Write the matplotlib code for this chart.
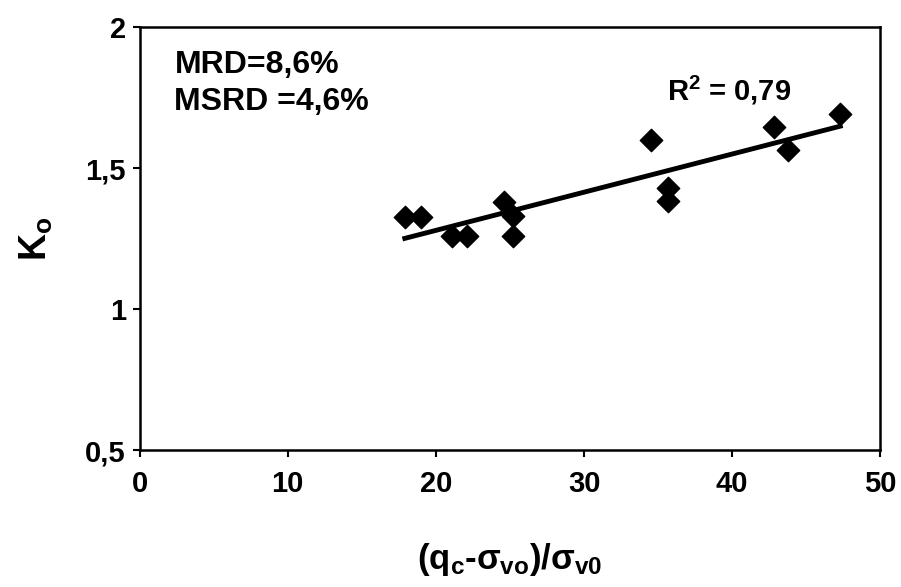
import matplotlib
matplotlib.use("Agg")
import matplotlib.pyplot as plt
import numpy as np

# data
x_ratio = [17.9, 19.0, 21.1, 22.1, 24.6, 25.2, 25.2, 34.5, 35.7, 35.7, 42.8, 43.8, 47.3]
k0 = [1.325, 1.325, 1.26, 1.26, 1.38, 1.33, 1.26, 1.60, 1.43, 1.385, 1.645, 1.565, 1.69]
x_ticks = [0, 10, 20, 30, 40, 50]
y_ticks = [0.5, 1.0, 1.5, 2.0]
y_tick_labels = ["0,5", "1", "1,5", "2"]

plt.rcParams["font.family"] = ["Liberation Sans", "DejaVu Sans"]
plt.rcParams["font.weight"] = "bold"
plt.rcParams["axes.labelweight"] = "bold"
plt.rcParams["mathtext.fontset"] = "custom"
plt.rcParams["mathtext.rm"] = "Liberation Sans:bold"
plt.rcParams["mathtext.bf"] = "Liberation Sans:bold"
plt.rcParams["mathtext.it"] = "Liberation Sans:bold"

fig = plt.figure(figsize=(9.01, 5.87), dpi=100)
ax = fig.add_axes([0.155, 0.233, 0.822, 0.721])

ax.scatter(x_ratio, k0, marker="D", s=130, color="black", zorder=3)

# linear trend line
coef = np.polyfit(x_ratio, k0, 1)
xl = np.array([min(x_ratio), max(x_ratio)])
ax.plot(xl, np.polyval(coef, xl), color="black", lw=3.5, zorder=2)

ax.set_xlim(0, 50)
ax.set_ylim(0.5, 2)
ax.set_xticks(x_ticks)
ax.set_yticks(y_ticks)
ax.set_yticklabels(y_tick_labels)
ax.tick_params(direction="out", length=5, width=1.5, labelsize=21)
ax.tick_params(axis="x", pad=9)
ax.tick_params(axis="y", pad=5)
for s in ax.spines.values():
    s.set_linewidth(1.8)

ax.text(0.047, 0.891, "MRD=8,6%", transform=ax.transAxes, fontsize=23,
        va="baseline")
ax.text(0.047, 0.804, "MSRD =4,6%", transform=ax.transAxes, fontsize=23,
        va="baseline")
ax.text(0.712, 0.827, r"R$^\mathrm{2}$ = 0,79", transform=ax.transAxes,
        fontsize=21, va="baseline")

ax.set_ylabel(r"K$_\mathrm{o}$", fontsize=27, labelpad=22)
ax.set_xlabel(r"(q$_\mathrm{c}$-$\sigma_\mathrm{vo}$)/$\sigma_\mathrm{v0}$",
              fontsize=25, labelpad=31)

fig.savefig("out.png", dpi=100)
